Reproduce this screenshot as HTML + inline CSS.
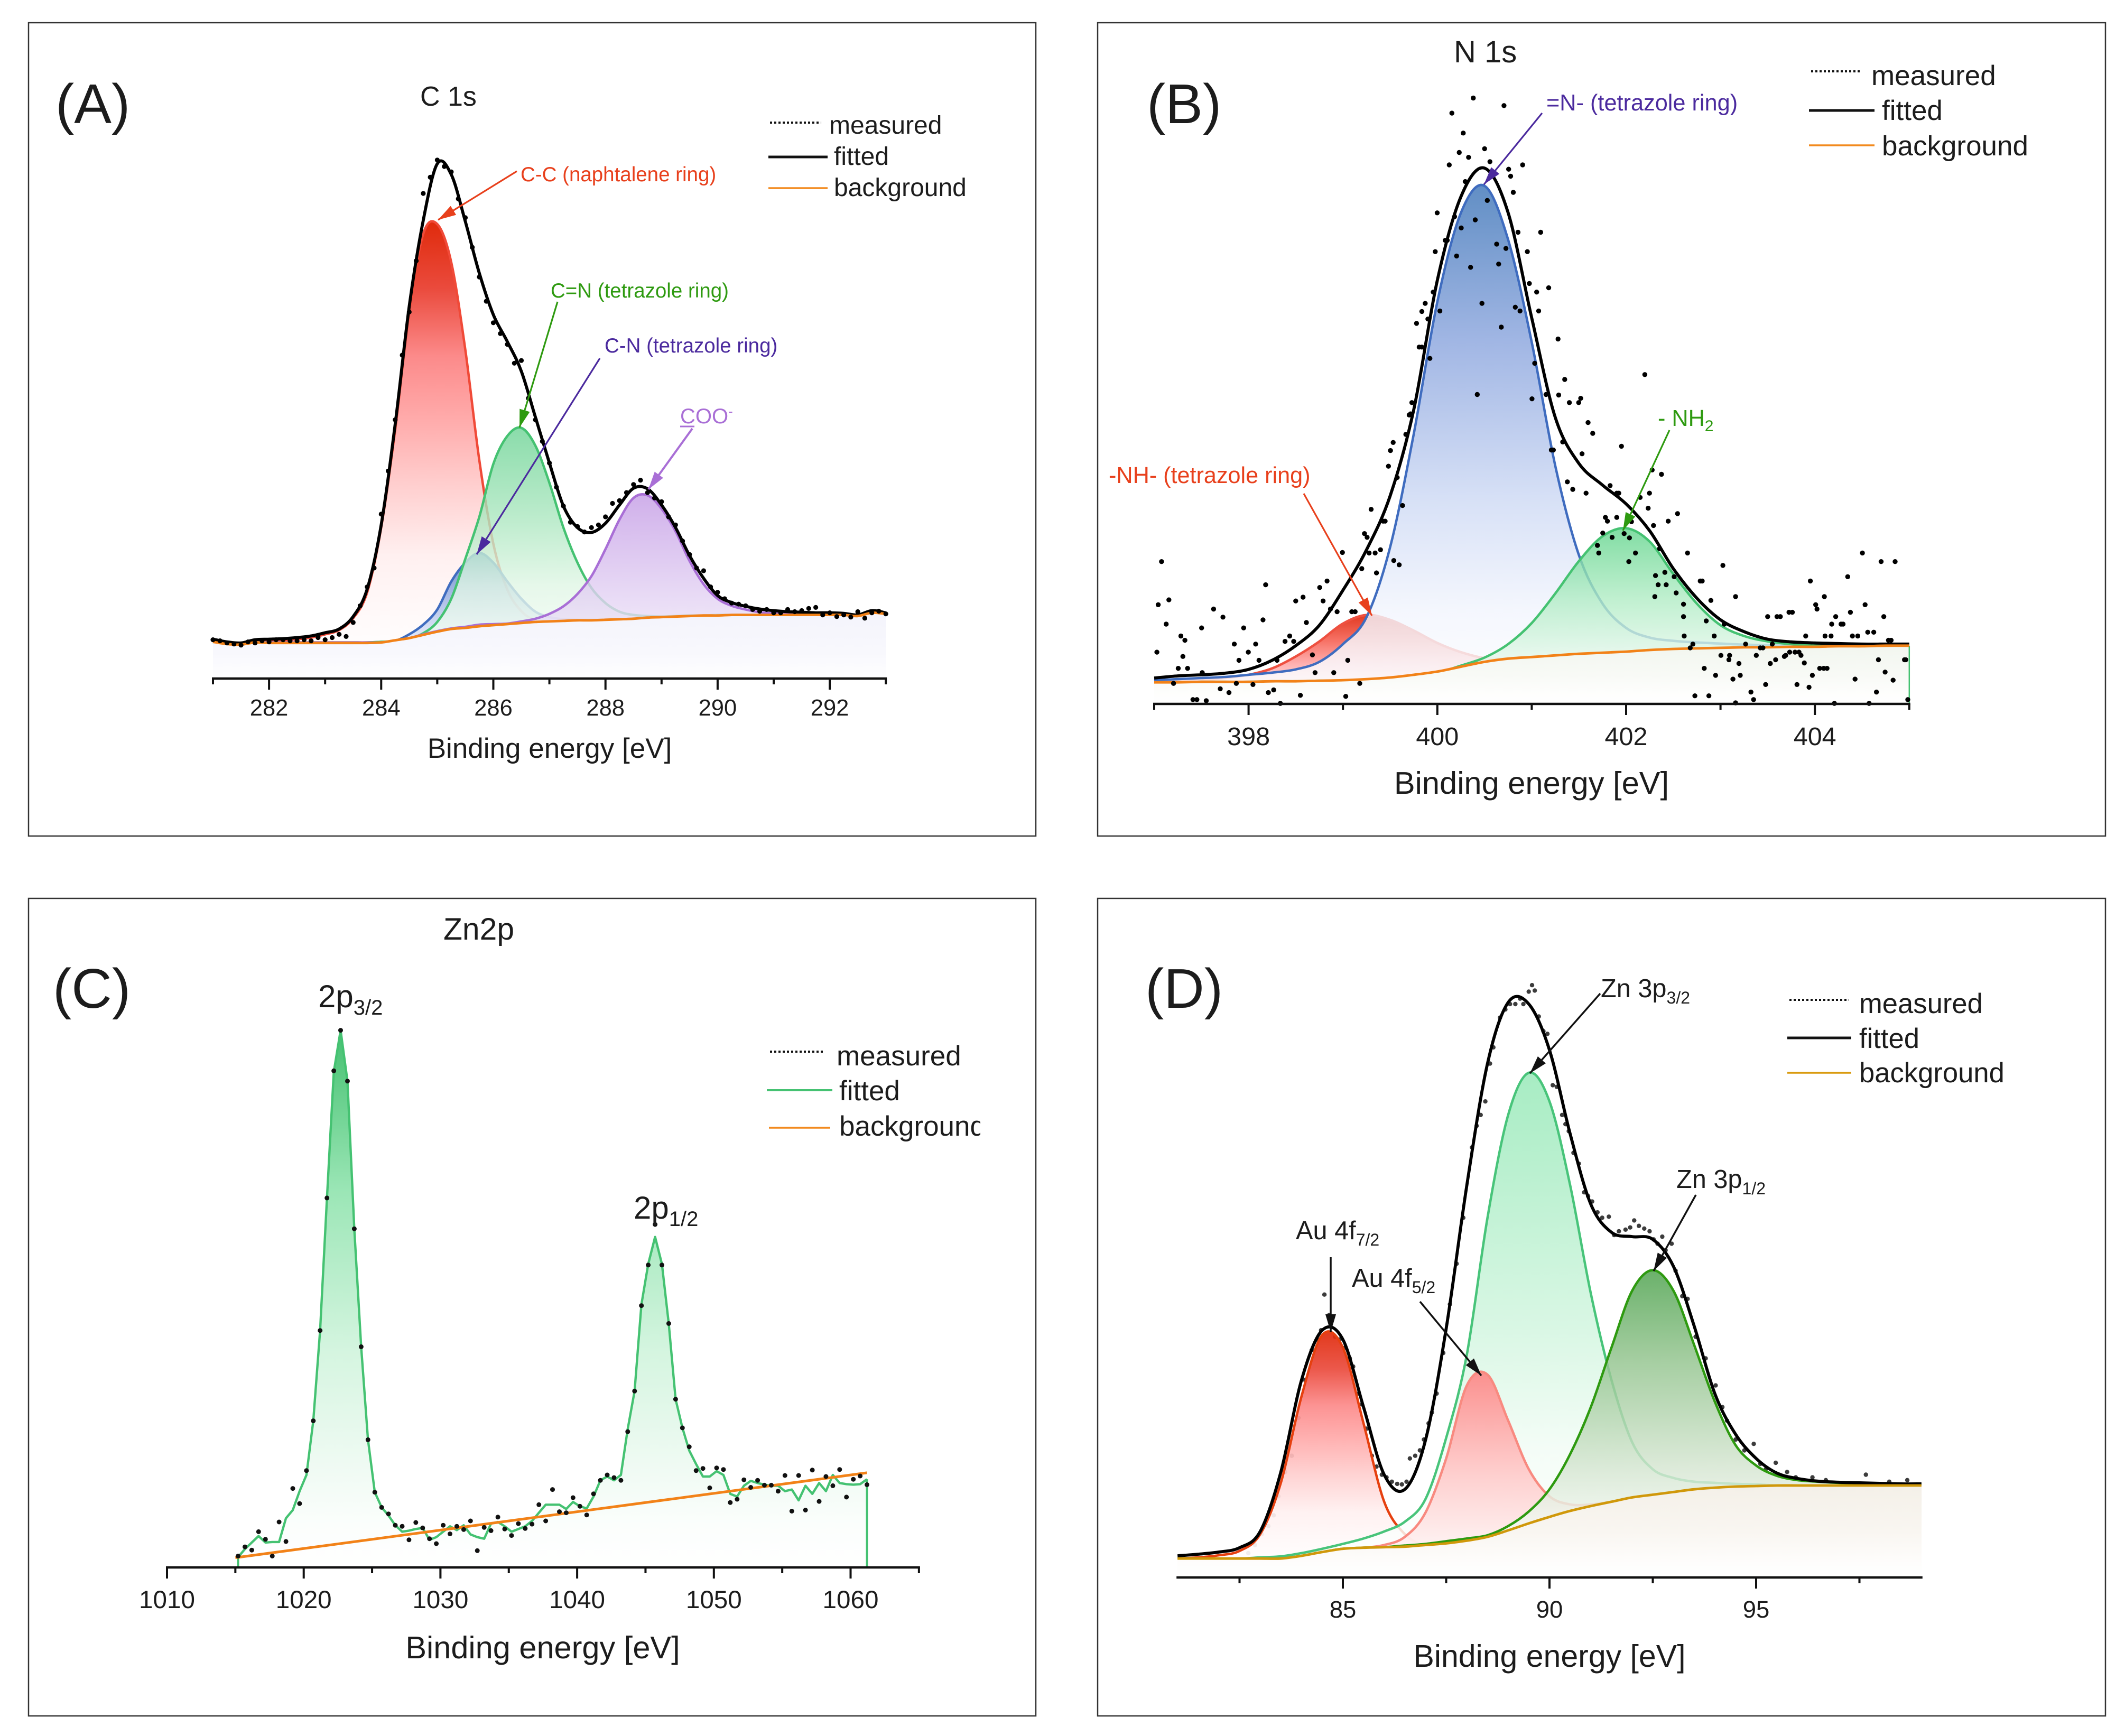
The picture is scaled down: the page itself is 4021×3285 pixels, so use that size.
<!DOCTYPE html>
<html lang="en">
<head>
<meta charset="utf-8">
<title>XPS spectra panels</title>
<style>
html,body{margin:0;padding:0;background:#fff}
svg{display:block}
text{font-family:"Liberation Sans",Arial,sans-serif;fill:#1c1c1c}
</style>
</head>
<body>
<svg id="chart" xmlns="http://www.w3.org/2000/svg" width="4021" height="3285" viewBox="0 0 4021 3285">
<defs>
<marker id="ah-red" markerUnits="userSpaceOnUse" markerWidth="36" markerHeight="22" refX="34" refY="11" orient="auto"><path d="M0 1 L34 11 L0 21 Z" fill="#e8401c"/></marker>
<marker id="ah-green" markerUnits="userSpaceOnUse" markerWidth="36" markerHeight="22" refX="34" refY="11" orient="auto"><path d="M0 1 L34 11 L0 21 Z" fill="#2e9a10"/></marker>
<marker id="ah-indigo" markerUnits="userSpaceOnUse" markerWidth="36" markerHeight="22" refX="34" refY="11" orient="auto"><path d="M0 1 L34 11 L0 21 Z" fill="#4b2a9e"/></marker>
<marker id="ah-purple" markerUnits="userSpaceOnUse" markerWidth="36" markerHeight="22" refX="34" refY="11" orient="auto"><path d="M0 1 L34 11 L0 21 Z" fill="#a96fd6"/></marker>
<marker id="ah-black" markerUnits="userSpaceOnUse" markerWidth="36" markerHeight="22" refX="34" refY="11" orient="auto"><path d="M0 1 L34 11 L0 21 Z" fill="#111"/></marker>
<clipPath id="legend-clip-c"><rect x="1400" y="1950" width="455" height="260"/></clipPath>
</defs>
<rect x="0" y="0" width="4021" height="3285" fill="#fff"/>

<rect x="54" y="43" width="1906" height="1539" fill="#fff" stroke="#333" stroke-width="2.5"/>
<rect x="2077" y="43" width="1907" height="1539" fill="#fff" stroke="#333" stroke-width="2.5"/>
<rect x="54" y="1700" width="1906" height="1547" fill="#fff" stroke="#333" stroke-width="2.5"/>
<rect x="2077" y="1700" width="1907" height="1547" fill="#fff" stroke="#333" stroke-width="2.5"/>

<g id="plot-a"></g>
<g id="plot-b"></g>
<g id="plot-c"></g>
<g id="plot-d"></g>

<!-- Panel A text -->
<text x="105" y="233" font-size="106">(A)</text>
<text x="795" y="200" font-size="52">C 1s</text>
<text x="1040" y="1434" font-size="53" text-anchor="middle">Binding energy [eV]</text>
<line x1="1457" y1="232" x2="1554" y2="232" stroke="#111" stroke-width="4" stroke-dasharray="4 4"/>
<line x1="1454" y1="297" x2="1566" y2="297" stroke="#111" stroke-width="5"/>
<line x1="1454" y1="356" x2="1566" y2="356" stroke="#f28a1e" stroke-width="3.5"/>
<text x="1569" y="253" font-size="48">measured</text>
<text x="1578" y="312" font-size="48">fitted</text>
<text x="1578" y="371" font-size="48">background</text>
<text x="985" y="343" font-size="38.5" style="fill:#e8401c">C-C (naphtalene ring)</text>
<text x="1042" y="563" font-size="38.5" style="fill:#2e9a10">C=N (tetrazole ring)</text>
<text x="1144" y="667" font-size="38.5" style="fill:#4b2a9e">C-N (tetrazole ring)</text>
<text x="1287" y="801" font-size="40" style="fill:#a96fd6">COO<tspan dy="-14" font-size="26">-</tspan></text>
<line x1="1287" y1="807" x2="1314" y2="807" stroke="#a96fd6" stroke-width="3"/>
<line x1="978" y1="324" x2="829" y2="416" stroke="#e8401c" stroke-width="3.2" marker-end="url(#ah-red)"/>
<line x1="1055" y1="571" x2="983" y2="809" stroke="#2e9a10" stroke-width="3.2" marker-end="url(#ah-green)"/>
<line x1="1135" y1="678" x2="902" y2="1049" stroke="#4b2a9e" stroke-width="3.2" marker-end="url(#ah-indigo)"/>
<line x1="1310" y1="811" x2="1227" y2="926" stroke="#a96fd6" stroke-width="4" marker-end="url(#ah-purple)"/>

<!-- Panel B text -->
<text x="2170" y="233" font-size="106">(B)</text>
<text x="2751" y="118" font-size="58">N 1s</text>
<text x="2898" y="1502" font-size="59.6" text-anchor="middle">Binding energy [eV]</text>
<line x1="3427" y1="135" x2="3523" y2="135" stroke="#111" stroke-width="4" stroke-dasharray="4 4"/>
<line x1="3423" y1="209" x2="3547" y2="209" stroke="#111" stroke-width="5"/>
<line x1="3423" y1="275" x2="3547" y2="275" stroke="#f28a1e" stroke-width="3.5"/>
<text x="3541" y="161" font-size="53">measured</text>
<text x="3561" y="227" font-size="53">fitted</text>
<text x="3561" y="294" font-size="53">background</text>
<text x="2926" y="209" font-size="43.3" style="fill:#4b2a9e">=N- (tetrazole ring)</text>
<text x="2098" y="914" font-size="43.2" style="fill:#e8401c">-NH- (tetrazole ring)</text>
<text x="3137" y="806" font-size="43.2" style="fill:#2e9a10">- NH<tspan dy="10" font-size="30">2</tspan></text>
<line x1="2918" y1="214" x2="2808" y2="349" stroke="#4b2a9e" stroke-width="3.2" marker-end="url(#ah-indigo)"/>
<line x1="2467" y1="934" x2="2596" y2="1165" stroke="#e8401c" stroke-width="3.2" marker-end="url(#ah-red)"/>
<line x1="3159" y1="814" x2="3071" y2="1004" stroke="#2e9a10" stroke-width="3.2" marker-end="url(#ah-green)"/>

<!-- Panel C text -->
<text x="100" y="1907" font-size="106">(C)</text>
<text x="839" y="1778" font-size="58.8">Zn2p</text>
<text x="1027" y="3138" font-size="59.5" text-anchor="middle">Binding energy [eV]</text>
<text x="602" y="1906" font-size="60">2p<tspan dy="14" font-size="40">3/2</tspan></text>
<text x="1199" y="2306" font-size="60">2p<tspan dy="14" font-size="40">1/2</tspan></text>
<line x1="1457" y1="1990" x2="1560" y2="1990" stroke="#111" stroke-width="4" stroke-dasharray="4 4"/>
<line x1="1451" y1="2063" x2="1575" y2="2063" stroke="#45c272" stroke-width="4"/>
<line x1="1455" y1="2134" x2="1571" y2="2134" stroke="#f28a1e" stroke-width="3.5"/>
<g clip-path="url(#legend-clip-c)">
<text x="1583" y="2016" font-size="53">measured</text>
<text x="1588" y="2082" font-size="53">fitted</text>
<text x="1588" y="2149" font-size="53">background</text>
</g>

<!-- Panel D text -->
<text x="2167" y="1907" font-size="106">(D)</text>
<text x="2932" y="3154" font-size="59" text-anchor="middle">Binding energy [eV]</text>
<line x1="3386" y1="1892" x2="3499" y2="1892" stroke="#111" stroke-width="4" stroke-dasharray="4 4"/>
<line x1="3382" y1="1964" x2="3503" y2="1964" stroke="#111" stroke-width="5"/>
<line x1="3382" y1="2030" x2="3503" y2="2030" stroke="#d99a0e" stroke-width="3.5"/>
<text x="3518" y="1917" font-size="52.6">measured</text>
<text x="3518" y="1983" font-size="52.6">fitted</text>
<text x="3518" y="2048" font-size="52.6">background</text>
<text x="2452" y="2345" font-size="48.7">Au 4f<tspan dy="12" font-size="32">7/2</tspan></text>
<text x="2558" y="2435" font-size="48.7">Au 4f<tspan dy="12" font-size="32">5/2</tspan></text>
<text x="3029" y="1887" font-size="48.7">Zn 3p<tspan dy="12" font-size="32">3/2</tspan></text>
<text x="3172" y="2248" font-size="48.7">Zn 3p<tspan dy="12" font-size="32">1/2</tspan></text>
<line x1="2518" y1="2379" x2="2518" y2="2521" stroke="#111" stroke-width="3.5" marker-end="url(#ah-black)"/>
<line x1="2687" y1="2463" x2="2803" y2="2603" stroke="#111" stroke-width="3.5" marker-end="url(#ah-black)"/>
<line x1="3028" y1="1880" x2="2895" y2="2031" stroke="#111" stroke-width="3.5" marker-end="url(#ah-black)"/>
<line x1="3209" y1="2261" x2="3129" y2="2405" stroke="#111" stroke-width="3.5" marker-end="url(#ah-black)"/>
</svg>

<script>
/* ---------- Panel A : C 1s ---------- */
const majorTicksA = [282,284,286,288,290,292];
const minorTicksA = [281,283,285,287,289,291,293];
const energyA = [281,281.25,281.5,281.75,282,282.25,282.5,282.75,283,283.25,283.5,283.75,284,284.25,284.5,284.75,285,285.25,285.5,285.75,286,286.25,286.5,286.75,287,287.25,287.5,287.75,288,288.25,288.5,288.75,289,289.25,289.5,289.75,290,290.25,290.5,290.75,291,291.25,291.5,291.75,292,292.25,292.5,292.75,293];
const fittedA = [73,68,66,72,73,74,76,79,85,92,115,166,285,472,690,850,955,935,848,752,675,625,570,485,400,320,280,271,288,322,353,352,322,280,228,186,154,141,134,129,126,124,123,122,122,121,118,126,122];
const backgroundA = [68,64,63,67,66,66,66,66,66,66,66,66,67,71,75,81,87,92,94,97,99,101,103,105,106,107,108,108,109,110,111,113,114,115,116,117,117,118,118,118,118,118,118,118,118,118,116,122,120];
const peakCC = [70,65,63,69,70,71,73,76,82,90,112,160,280,462,680,825,843,772,610,405,250,165,125,108,106,107,108,108,109,110,111,113,114,115,116,117,117,118,118,118,118,118,118,118,118,118,116,122,120];
const peakCN = [67,66,65,67,67,67,67,67,67,67,67,67,68,70,82,100,128,180,215,233,215,180,148,124,114,110,109,109,109,110,111,113,114,115,116,117,117,118,118,118,118,118,118,118,118,118,116,122,120];
const peakCdN = [67,66,65,67,67,67,67,67,67,67,67,67,68,70,74,84,105,148,222,300,398,450,465,432,363,280,215,168,140,124,118,116,115,116,117,117,118,118,118,118,118,118,118,118,118,118,116,122,120];
const peakCOO = [67,66,65,67,67,67,67,67,67,67,67,67,67,71,75,82,88,93,96,100,101,102,106,111,120,134,157,190,240,295,335,340,315,273,218,175,148,135,128,123,121,120,119,119,119,119,118,122,120];
const measuredEnergyA = [281,281.125,281.25,281.375,281.5,281.625,281.75,281.875,282,282.125,282.25,282.375,282.5,282.625,282.75,282.875,283,283.125,283.25,283.375,283.5,283.625,283.75,283.875,284,284.125,284.25,284.375,284.5,284.625,284.75,284.875,285,285.125,285.25,285.375,285.5,285.625,285.75,285.875,286,286.125,286.25,286.375,286.5,286.625,286.75,286.875,287,287.125,287.25,287.375,287.5,287.625,287.75,287.875,288,288.125,288.25,288.375,288.5,288.625,288.75,288.875,289,289.125,289.25,289.375,289.5,289.625,289.75,289.875,290,290.125,290.25,290.375,290.5,290.625,290.75,290.875,291,291.125,291.25,291.375,291.5,291.625,291.75,291.875,292,292.125,292.25,292.375,292.5,292.625,292.75,292.875,293];
const measuredA = [72,70,66,64,62,68,66,70,68,72,72,70,70,72,70,76,72,76,82,78,104,135,170,205,305,385,480,600,680,775,900,930,962,950,940,890,855,800,745,700,660,640,620,585,590,520,480,440,400,355,320,290,282,272,280,285,300,325,330,345,360,368,345,335,328,300,285,255,230,205,200,170,160,148,140,138,135,128,125,128,122,122,128,124,126,130,132,118,122,115,118,114,124,112,122,125,120];

/* ---------- Panel B : N 1s ---------- */
const majorTicksB = [398,400,402,404];
const minorTicksB = [397,399,401,403,405];
const energyB = [397,397.25,397.5,397.75,398,398.25,398.5,398.75,399,399.25,399.5,399.75,400,400.25,400.5,400.75,401,401.25,401.5,401.75,402,402.25,402.5,402.75,403,403.25,403.5,403.75,404,404.25,404.5,404.75,405];
const fittedB = [48,52,54,57,64,81,108,146,211,286,386,546,786,941,994,911,716,531,446,406,371,321,251,196,156,134,120,115,113,112,111,111,111];
const backgroundB = [40,40,41,41,41,42,42,43,44,46,49,54,60,69,78,84,87,90,93,95,97,100,102,103,104,105,105,106,106,107,107,108,108];
const peakNH = [42,43,44,48,54,66,88,116,149,165,156,136,113,96,85,84,87,90,93,95,97,100,102,103,104,105,105,106,106,107,107,108,108];
const peakNd = [44,46,48,50,54,58,64,78,111,161,291,501,746,911,961,861,671,441,276,186,141,123,117,114,112,110,109,108,108,108,108,108,108];
const peakNH2 = [40,40,41,41,41,42,42,43,43,45,48,52,58,71,86,111,150,205,265,311,326,301,241,186,146,126,116,111,109,108,108,108,108];
const measuredChannelB = [
118,120,125,132,136,143,150,154,157,160,
164,172,178,185,186,192,203,213,217,226,
234,237,241,248,255,262,266,271,277,281,
285,293,298,303,310,317,323,326,333,337,
342,351,355,362,367,373,378,383,388,396,
401,404,410,415,422,425,429,433,436,439,
445,447,453,457,460,465,468,472,473,478,
481,486,491,496,498,500,507,511,515,515,
520,524,527,532,535,538,542,550,553,556,
560,564,567,571,574,577,580,585,588,592,
595,598,605,609,613,617,627,630,634,638,
641,645,648,652,655,659,662,666,673,676,
680,684,687,690,693,701,705,709,712,719,
720,726,729,733,736,741,750,753,755,761,
764,771,778,780,786,790,793,797,800,807,
807,810,814,818,825,826,829,835,842,849,
854,856,860,862,864,865,869,871,874,879,
881,884,893,896,898,907,907,908,913,917,
921,924,932,935,938,941,945,948,953,955,
963,966,968,975,976,981,985,985,990,992,
1000,1008,1012,1016,1022,1026,1030,1033,1037,1040,
1045,1047,1052,1058,1060,1065,1066,1070,1074,1077,
1080,1083,1088,1090,1095,1097,1100,1105,1107,1111,
1117,1118,1119,1122,1128,1129,1133,1135,1143,1146,
1153,1157,1160,1164,1168,1175,1179,1183,1185,1192,
1196,1199,1203,1207,1209,1214,1218,1221,1224,1238,
1240,1243];
const measuredCountsB = [
96,184,264,148,193,38,66,126,88,118,
66,8,8,141,58,6,176,28,161,21,
111,38,81,141,96,36,111,81,156,221,
21,26,81,1,116,126,116,191,16,198,
151,91,58,216,191,228,176,58,171,281,
14,81,171,171,38,251,316,309,280,361,
280,243,286,339,339,441,470,485,266,420,
258,368,500,536,538,559,706,662,662,728,
743,714,641,764,839,911,729,860,860,1000,
1096,904,831,1023,883,1059,969,1014,810,1124,
898,574,743,1030,934,1006,853,816,699,1110,
845,992,979,949,736,875,729,1000,839,780,
566,632,764,729,875,574,772,471,471,677,
573,486,602,412,559,398,559,567,464,391,
522,502,294,280,317,346,339,405,309,391,
346,391,478,316,264,308,338,280,383,611,
363,391,434,331,199,238,221,288,426,244,
221,339,236,206,353,185,162,126,280,104,
111,15,228,228,66,154,15,192,126,53,
90,257,148,82,90,46,199,2,75,53,
111,22,8,90,104,104,36,162,75,111,
82,162,162,88,90,170,96,170,96,36,
96,90,76,126,31,228,53,184,176,66,
66,199,126,66,126,148,1,162,148,148,
236,170,126,46,126,280,184,133,1,133,
22,82,264,162,59,118,118,44,264,82,
82,8];

/* ---------- Panel C : Zn 2p ---------- */
const majorTicksC = [1010,1020,1030,1040,1050,1060];
const minorTicksC = [1015,1025,1035,1045,1055,1065];
const energyC = [1015.2,1015.7,1016.2,1016.7,1017.2,1017.7,1018.2,1018.7,1019.2,1019.7,1020.2,1020.7,1021.2,1021.7,1022.2,1022.7,1023.2,1023.7,1024.2,1024.7,1025.2,1025.7,1026.2,1026.7,1027.2,1027.7,1028.2,1028.7,1029.2,1029.7,1030.2,1030.7,1031.2,1031.7,1032.2,1032.7,1033.2,1033.7,1034.2,1034.7,1035.2,1035.7,1036.2,1036.7,1037.2,1037.7,1038.2,1038.7,1039.2,1039.7,1040.2,1040.7,1041.2,1041.7,1042.2,1042.7,1043.2,1043.7,1044.2,1044.7,1045.2,1045.7,1046.2,1046.7,1047.2,1047.7,1048.2,1048.7,1049.2,1049.7,1050.2,1050.7,1051.2,1051.7,1052.2,1052.7,1053.2,1053.7,1054.2,1054.7,1055.2,1055.7,1056.2,1056.7,1057.2,1057.7,1058.2,1058.7,1059.2,1059.7,1060.2,1060.7,1061.2];
const fittedC = [19,34,46,58,46,47,47,91,106,141,171,271,438,683,916,993,899,626,408,236,139,111,96,78,66,68,71,73,51,56,66,76,69,78,61,56,53,81,84,76,66,71,76,86,101,116,116,116,108,121,113,109,131,161,168,161,171,256,326,486,561,611,561,451,311,258,216,191,168,168,178,171,136,131,151,160,156,153,151,151,141,144,124,151,136,156,141,171,156,154,153,154,163];
const measuredC = [21,38,32,66,52,21,84,48,146,118,179,271,438,683,918,993,899,626,408,236,139,111,99,78,76,51,83,73,53,44,78,62,76,70,86,31,74,68,93,71,59,81,72,80,116,86,144,103,101,129,113,97,136,161,171,166,161,251,326,484,559,634,559,451,311,258,223,179,183,147,184,181,120,126,162,148,161,152,152,141,170,104,170,106,180,122,168,151,181,130,163,169,153];
const backgroundEnergyC = [1015,1061.2];
const backgroundC = [18,175];

/* ---------- Panel D : Zn 3p / Au 4f ---------- */
const majorTicksD = [85,90,95];
const minorTicksD = [82.5,87.5,92.5,97.5];
const energyD = [81,81.5,82,82.5,83,83.5,84,84.5,85,85.5,86,86.5,87,87.5,88,88.5,89,89.5,90,90.5,91,91.5,92,92.5,93,93.5,94,94.5,95,95.5,96,96.5,97,97.5,98,98.5,99];
const fittedD = [40,43,47,55,85,195,365,457,440,315,190,163,254,460,725,950,1063,1060,975,820,690,638,630,625,575,465,340,265,220,193,183,178,176,175,174,173,173];
const backgroundD = [35,35,35,35,35,35,40,47,53,55,56,57,60,63,68,75,87,100,112,123,132,140,148,153,158,163,166,168,169,170,170,170,170,170,170,170,170];
const peakAu72 = [35,37,41,49,80,175,335,448,425,285,140,80,60,63,68,75,87,100,112,123,132,140,148,153,158,163,166,168,169,170,170,170,170,170,170,170,170];
const peakAu52 = [35,35,35,35,35,35,40,47,53,55,60,75,120,220,355,375,290,200,150,135,135,140,148,153,158,163,166,168,169,170,170,170,170,170,170,170,170];
const peakZn32 = [35,35,35,35,37,39,45,53,62,72,85,103,145,258,412,665,855,933,880,725,525,365,250,200,184,177,175,173,172,170,170,170,170,170,170,170,170];
const peakZn12 = [35,35,35,35,35,35,40,47,53,55,56,59,62,67,72,78,95,122,163,228,315,425,530,568,530,430,325,245,207,188,180,177,175,174,173,173,173];
const measuredChannelD = [
255,265,275,285,293,300,310,320,330,340,
350,358,364,369,376,378,385,392,400,407,
412,420,425,432,440,447,455,462,470,478,
485,492,497,505,512,518,525,530,537,547,
557,567,577,590,597,603,610,617,622,632,
640,647,655,662,667,675,680,684,690,697,
703,711,717,725,730,735,742,750,758,764,
770,778,785,795,803,810,820,827,833,840,
848,856,862,868,875,880,889,895,905,913,
925,940,955,965,972,985,998,1012,1022,1030,
1045,1050,1062,1075,1100,1120,1180,1215,1242];
const measuredCountsD = [
45,60,80,95,115,150,195,225,295,365,
420,440,457,523,485,475,445,440,425,405,
390,340,320,275,225,205,190,185,177,173,
172,177,220,225,235,255,285,305,340,415,
505,580,665,795,835,855,880,950,980,1035,
1050,1060,1060,1070,1060,1083,1095,1085,1037,1010,
1005,910,907,855,838,825,785,765,712,705,
695,675,665,667,633,640,643,647,660,650,
645,640,625,617,630,605,617,567,520,515,
445,405,355,315,290,255,235,247,210,200,
212,190,195,185,185,180,190,177,180];

/* ---------- Axis functions ---------- */
function xA(e){return 403+(e-281)*106.1;}
function yA(v){return 1284-v*1.02;}
function xB(e){return 2184+(e-397)*178.6;}
function yB(v){return 1332-v*1.02;}
function xC(e){return 316+(e-1010)*25.87;}
function yC(v){return 2966-v*1.0236;}
function xD(e){return 2228.2+(e-81)*78.2;}
function yD(v){return 2985-v*1.0236;}
function channelEnergyB(c){return 397+(c-114)/141.4;}
function channelEnergyD(c){return 81+(c-149)/61.9;}

/* ---------- Drawing helpers ---------- */
const NS = 'http://www.w3.org/2000/svg';
const defs = document.querySelector('#chart defs');
let gradientCount = 0;

function mk(tag, name, parent){
  const el = document.createElementNS(NS, tag);
  
  
  parent.appendChild(el);
  return el;
}

function smoothPath(xs, ys){
  let d = 'M' + xs[0].toFixed(1) + ' ' + ys[0].toFixed(1);
  for(let i = 0; i < xs.length - 1; i++){
    const p = Math.max(i - 1, 0), n = Math.min(i + 2, xs.length - 1);
    const c1x = xs[i] + (xs[i+1] - xs[p]) / 6, c1y = ys[i] + (ys[i+1] - ys[p]) / 6;
    const c2x = xs[i+1] - (xs[n] - xs[i]) / 6, c2y = ys[i+1] - (ys[n] - ys[i]) / 6;
    d += 'C' + c1x.toFixed(1) + ' ' + c1y.toFixed(1) + ' ' + c2x.toFixed(1) + ' ' + c2y.toFixed(1) + ' ' + xs[i+1].toFixed(1) + ' ' + ys[i+1].toFixed(1);
  }
  return d;
}
function linePath(xs, ys){
  return xs.map(function(x, i){ return (i ? 'L' : 'M') + x.toFixed(1) + ' ' + ys[i].toFixed(1); }).join('');
}
function gradient(stops, y1, y2){
  const id = 'grad-' + (gradientCount++);
  const g = document.createElementNS(NS, 'linearGradient');
  g.setAttribute('id', id);
  g.setAttribute('gradientUnits', 'userSpaceOnUse');
  g.setAttribute('x1', '0'); g.setAttribute('x2', '0');
  g.setAttribute('y1', y1); g.setAttribute('y2', y2);
  stops.forEach(function(s){
    const st = document.createElementNS(NS, 'stop');
    st.setAttribute('offset', s[0]);
    st.setAttribute('stop-color', s[1]);
    g.appendChild(st);
  });
  defs.appendChild(g);
  return id;
}
function curve(parent, name, energies, values, fx, fy, stroke, width, makePath){
  const el = mk('path', name, parent);
  el.setAttribute('d', (makePath || smoothPath)(energies.map(fx), values.map(fy)));
  el.setAttribute('fill', 'none');
  el.setAttribute('stroke', stroke);
  el.setAttribute('stroke-width', width);
  el.setAttribute('stroke-linejoin', 'round');
  return el;
}
function area(parent, name, energies, values, fx, fy, stops, opacity, makePath){
  const xs = energies.map(fx), ys = values.map(fy), base = fy(0);
  const el = mk('path', name, parent);
  el.setAttribute('d', (makePath || smoothPath)(xs, ys) + 'L' + xs[xs.length-1].toFixed(1) + ' ' + base + 'L' + xs[0].toFixed(1) + ' ' + base + 'Z');
  el.setAttribute('fill', 'url(#' + gradient(stops, fy(Math.max.apply(null, values)), base) + ')');
  el.setAttribute('fill-opacity', opacity);
  return el;
}
function peak(parent, name, energies, values, fx, fy, stroke, stops, opacity){
  area(parent, name + '-fill', energies, values, fx, fy, stops, opacity);
  curve(parent, name + '-line', energies, values, fx, fy, stroke, 4.6);
}
function dots(parent, name, energies, values, fx, fy, r, color){
  const group = mk('g', name, parent);
  energies.forEach(function(e, i){
    if(values[i] === undefined) return;
    const c = mk('circle', 'measured-point', group);
    c.setAttribute('cx', fx(e).toFixed(1));
    c.setAttribute('cy', fy(values[i]).toFixed(1));
    c.setAttribute('r', r);
    c.setAttribute('fill', color);
  });
}
function axis(parent, name, minE, maxE, majors, minors, fx, fy, fontSize, labelY){
  const group = mk('g', name, parent);
  const y0 = fy(0);
  const base = mk('line', 'x-axis-line', group);
  base.setAttribute('x1', fx(minE) - 2); base.setAttribute('x2', fx(maxE) + 2);
  base.setAttribute('y1', y0); base.setAttribute('y2', y0);
  base.setAttribute('stroke', '#111'); base.setAttribute('stroke-width', 4.5);
  majors.forEach(function(t){
    const tick = mk('line', 'major-tick', group);
    tick.setAttribute('x1', fx(t)); tick.setAttribute('x2', fx(t));
    tick.setAttribute('y1', y0); tick.setAttribute('y2', y0 + 21);
    tick.setAttribute('stroke', '#111'); tick.setAttribute('stroke-width', 4);
    const label = mk('text', 'tick-label', group);
    label.setAttribute('x', fx(t)); label.setAttribute('y', labelY);
    label.setAttribute('font-size', fontSize);
    label.setAttribute('text-anchor', 'middle');
    label.textContent = String(t);
  });
  minors.forEach(function(t){
    const tick = mk('line', 'minor-tick', group);
    tick.setAttribute('x1', fx(t)); tick.setAttribute('x2', fx(t));
    tick.setAttribute('y1', y0); tick.setAttribute('y2', y0 + 11);
    tick.setAttribute('stroke', '#111'); tick.setAttribute('stroke-width', 4);
  });
}

/* ---------- Colour ramps ---------- */
const rampRed = [[0,'#e02c0e'],[0.14,'#ea4a3c'],[0.29,'#fc8a8a'],[0.43,'#ffabab'],[0.58,'#ffd0d0'],[0.73,'#fff0f0'],[0.87,'#fffafa'],[1,'#ffffff']];
const rampRedSmall = [[0,'#e23a22'],[0.3,'#f77468'],[0.55,'#ffb0b0'],[0.8,'#ffe2e2'],[1,'#fff8f8']];
const rampGreen = [[0,'#6dd395'],[0.36,'#ace7c0'],[0.63,'#e0f6e5'],[1,'#ffffff']];
const rampBlue = [[0,'#3f76b8'],[0.3,'#8ca6de'],[0.6,'#cdd9f4'],[0.82,'#f2f5fd'],[1,'#ffffff']];
const rampPurple = [[0,'#c49ce5'],[0.5,'#e0cdf2'],[0.85,'#f2ecf9'],[1,'#f8f4fd']];
const rampPink = [[0,'#ff8080'],[0.5,'#ffc8c8'],[0.85,'#fff0f0'],[1,'#ffffff']];
const rampDark = [[0,'#4aa04a'],[0.3,'#93c48e'],[0.65,'#d6e6d2'],[0.85,'#f6faf5'],[1,'#ffffff']];
const rampLight = [[0,'#94e8b6'],[0.5,'#d0f5de'],[0.75,'#f2fcf5'],[1,'#ffffff']];

/* ---------- Panel A ---------- */
(function(){
  const g = document.getElementById('plot-a');
  peak(g, 'peak-c-c', energyA, peakCC, xA, yA, '#f04a38', rampRed, 1);
  peak(g, 'peak-c-n', energyA, peakCN, xA, yA, '#3f6cbf', rampBlue, 0.8);
  peak(g, 'peak-c-double-n', energyA, peakCdN, xA, yA, '#45c272', rampGreen, 0.8);
  peak(g, 'peak-coo', energyA, peakCOO, xA, yA, '#a96fd6', rampPurple, 0.8);
  area(g, 'background-band', energyA, backgroundA, xA, yA, [[0,'#f4f4fc'],[0.6,'#f8f8fd'],[1,'#fefeff']], 1);
  curve(g, 'fitted-curve', energyA, fittedA, xA, yA, '#000', 5.8);
  curve(g, 'background-curve', energyA, backgroundA, xA, yA, '#f28218', 4.8);
  dots(g, 'measured-points', measuredEnergyA, measuredA, xA, yA, 4.6, '#000');
  axis(g, 'x-axis', 281, 293, majorTicksA, minorTicksA, xA, yA, 43.5, 1354);
})();

/* ---------- Panel B ---------- */
(function(){
  const g = document.getElementById('plot-b');
  peak(g, 'peak-nh', energyB, peakNH, xB, yB, '#ee5040', rampRedSmall, 1);
  peak(g, 'peak-n-double', energyB, peakNd, xB, yB, '#3f6cbf', rampBlue, 0.82);
  peak(g, 'peak-nh2', energyB, peakNH2, xB, yB, '#45c272', [[0,'#62d48c'],[0.4,'#b0ecc4'],[0.8,'#eefaf2'],[1,'#ffffff']], 0.8);
  area(g, 'background-band', energyB, backgroundB, xB, yB, [[0,'#f2f6ef'],[0.5,'#f8faf6'],[0.85,'#fefefd'],[1,'#ffffff']], 1);
  const edge = mk('line', 'fill-edge-right', g);
  edge.setAttribute('x1', xB(405)); edge.setAttribute('x2', xB(405));
  edge.setAttribute('y1', yB(backgroundB[backgroundB.length-1])); edge.setAttribute('y2', yB(0));
  edge.setAttribute('stroke', '#45c272'); edge.setAttribute('stroke-width', 2.5);
  curve(g, 'fitted-curve', energyB, fittedB, xB, yB, '#000', 5.8);
  curve(g, 'background-curve', energyB, backgroundB, xB, yB, '#f28218', 4.8);
  dots(g, 'measured-points', measuredChannelB.map(channelEnergyB), measuredCountsB, xB, yB, 4.7, '#000');
  axis(g, 'x-axis', 397, 405, majorTicksB, minorTicksB, xB, yB, 48.5, 1410);
})();

/* ---------- Panel C ---------- */
(function(){
  const g = document.getElementById('plot-c');
  area(g, 'fitted-fill', energyC, fittedC, xC, yC, [[0,'#44c070'],[0.3,'#9be6b6'],[0.6,'#d5f5e0'],[0.8,'#eefaf2'],[0.92,'#fbfefc'],[1,'#ffffff']], 1, linePath);
  curve(g, 'fitted-curve', energyC, fittedC, xC, yC, '#45c272', 4.4, linePath);
  const left = mk('line', 'fitted-edge-left', g);
  left.setAttribute('x1', xC(energyC[0])); left.setAttribute('x2', xC(energyC[0]));
  left.setAttribute('y1', yC(fittedC[0])); left.setAttribute('y2', yC(0));
  left.setAttribute('stroke', '#45c272'); left.setAttribute('stroke-width', 4);
  const right = mk('line', 'fitted-edge-right', g);
  right.setAttribute('x1', xC(energyC[92])); right.setAttribute('x2', xC(energyC[92]));
  right.setAttribute('y1', yC(fittedC[92])); right.setAttribute('y2', yC(0));
  right.setAttribute('stroke', '#45c272'); right.setAttribute('stroke-width', 4);
  curve(g, 'background-curve', backgroundEnergyC, backgroundC, xC, yC, '#f28218', 5, linePath);
  dots(g, 'measured-points', energyC, measuredC, xC, yC, 4.5, '#111');
  axis(g, 'x-axis', 1010, 1065, majorTicksC, minorTicksC, xC, yC, 47.6, 3043);
})();

/* ---------- Panel D ---------- */
(function(){
  const g = document.getElementById('plot-d');
  dots(g, 'measured-points', measuredChannelD.map(channelEnergyD), measuredCountsD, xD, yD, 4.2, '#3c3c3c');
  peak(g, 'peak-au-4f7-2', energyD, peakAu72, xD, yD, '#e6400f', rampRed, 0.92);
  peak(g, 'peak-zn-3p3-2', energyD, peakZn32, xD, yD, '#48c47a', rampLight, 0.82);
  peak(g, 'peak-au-4f5-2', energyD, peakAu52, xD, yD, '#f88a80', rampPink, 0.85);
  peak(g, 'peak-zn-3p1-2', energyD, peakZn12, xD, yD, '#2e9a10', rampDark, 0.82);
  area(g, 'background-band', energyD, backgroundD, xD, yD, [[0,'#f4f0e8'],[0.5,'#f9f6f1'],[0.85,'#fefdfc'],[1,'#ffffff']], 1);
  curve(g, 'fitted-curve', energyD, fittedD, xD, yD, '#000', 5.8);
  curve(g, 'background-curve', energyD, backgroundD, xD, yD, '#d0980a', 4.8);
  axis(g, 'x-axis', 81, 99, majorTicksD, minorTicksD, xD, yD, 45.5, 3061);
})();
</script>
</body>
</html>
